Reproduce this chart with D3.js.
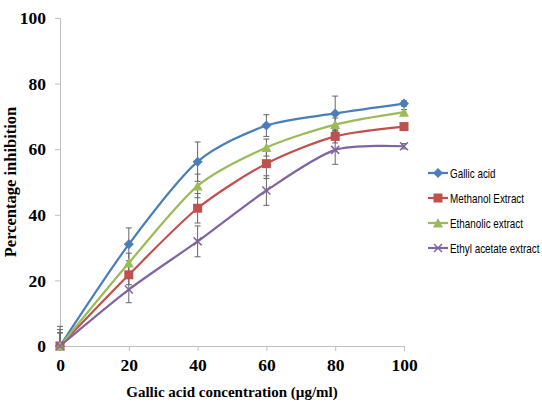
<!DOCTYPE html>
<html>
<head>
<meta charset="utf-8">
<script src="https://cdn.jsdelivr.net/npm/d3@7"></script>
<style>
  body { margin: 0; background: #fff; }
  #my_dataviz { width: 542px; height: 405px; }
</style>
</head>
<body>
<div id="my_dataviz"></div>
<script>
// Data
const concentrations = [0, 20, 40, 60, 80, 100];
const seriesNames = ["Gallic acid", "Methanol Extract", "Ethanolic extract", "Ethyl acetate extract"];
const gallicAcid = [0, 31, 56.2, 67.2, 70.9, 73.9];
const methanolExtract = [0, 21.7, 42, 55.6, 63.9, 66.9];
const ethanolicExtract = [0, 25.3, 48.8, 60.5, 67.5, 71.3];
const ethylAcetateExtract = [0, 17.2, 31.9, 47.4, 59.8, 60.9];
const gallicErr = [6, 5, 6, 3.3, 5.3, 0.8];
const methanolErr = [4, 3, 4.5, 4.5, 2, 0.8];
const ethanolicErr = [5, 3, 3.6, 2.6, 2, 0.8];
const ethylErr = [4, 4, 4.7, 4.5, 4.4, 0.8];
const yTicks = [0, 20, 40, 60, 80, 100];

const margin = { top: 18, right: 138, bottom: 59, left: 60 };
const width = 542 - margin.left - margin.right;
const height = 405 - margin.top - margin.bottom;

const svg = d3.select("#my_dataviz")
  .append("svg")
    .attr("width", 542)
    .attr("height", 405)
  .append("g")
    .attr("transform", `translate(${margin.left},${margin.top})`);

const x = d3.scaleLinear().domain([0, 100]).range([0, width]);
const y = d3.scaleLinear().domain([0, 100]).range([height, 0]);

const colors = ["#4a7ebb", "#c0504d", "#9bbb59", "#8064a2"];
const values = [gallicAcid, methanolExtract, ethanolicExtract, ethylAcetateExtract];
const errors = [gallicErr, methanolErr, ethanolicErr, ethylErr];

const series = seriesNames.map((name, i) => ({
  name: name,
  color: colors[i],
  points: concentrations.map((c, j) => ({ x: c, y: values[i][j], e: errors[i][j] }))
}));

// X axis
const xAxis = svg.append("g")
    .attr("transform", `translate(0,${height})`)
    .call(d3.axisBottom(x).tickValues(concentrations).tickSize(5).tickPadding(8));
// Y axis
const yAxis = svg.append("g")
    .call(d3.axisLeft(y).tickValues(yTicks).tickSize(5).tickPadding(9));

[xAxis, yAxis].forEach(a => {
  a.select(".domain").attr("stroke", "#bfbfbf");
  a.selectAll(".tick line").attr("stroke", "#bfbfbf");
  a.selectAll(".tick text")
    .attr("fill", "#000")
    .style("font-family", "'Liberation Serif', 'Times New Roman', serif")
    .style("font-weight", "bold")
    .style("font-size", "17.5px");
});

// Axis titles
svg.append("text")
    .attr("x", width / 2)
    .attr("y", height + 51)
    .attr("text-anchor", "middle")
    .style("font-family", "'Liberation Serif', 'Times New Roman', serif")
    .style("font-weight", "bold")
    .style("font-size", "15px")
    .text("Gallic acid concentration (µg/ml)");

svg.append("text")
    .attr("transform", `translate(-44,${height / 2}) rotate(-90)`)
    .attr("text-anchor", "middle")
    .style("font-family", "'Liberation Serif', 'Times New Roman', serif")
    .style("font-weight", "bold")
    .style("font-size", "16.5px")
    .text("Percentage inhibition");

// Error bars (clipped at the x axis like the original)
const errG = svg.append("g");
series.forEach(s => {
  s.points.forEach(p => {
    const lo = Math.max(0, p.y - p.e), hi = p.y + p.e;
    const g = errG.append("g").attr("stroke", "#666").attr("stroke-width", 1);
    g.append("line").attr("x1", x(p.x)).attr("x2", x(p.x)).attr("y1", y(lo)).attr("y2", y(hi));
    if (p.y - p.e >= 0) {
      g.append("line").attr("x1", x(p.x) - 3).attr("x2", x(p.x) + 3).attr("y1", y(lo)).attr("y2", y(lo));
    }
    g.append("line").attr("x1", x(p.x) - 3).attr("x2", x(p.x) + 3).attr("y1", y(hi)).attr("y2", y(hi));
  });
});

// Lines
const line = d3.line()
    .x(d => x(d.x))
    .y(d => y(d.y))
    .curve(d3.curveCardinal.tension(0.2));

svg.append("g")
  .selectAll("path")
  .data(series)
  .join("path")
    .attr("d", d => line(d.points))
    .attr("fill", "none")
    .attr("stroke", d => d.color)
    .attr("stroke-width", 2.2);

// Markers
function drawMarker(g, i, color) {
  if (i === 0) {
    g.append("path").attr("d", "M0,-5L5,0L0,5L-5,0Z").attr("fill", color);
  } else if (i === 1) {
    g.append("rect").attr("x", -4.5).attr("y", -4.5).attr("width", 9).attr("height", 9).attr("fill", color);
  } else if (i === 2) {
    g.append("path").attr("d", "M0,-5L5,4.5L-5,4.5Z").attr("fill", color);
  } else {
    g.append("path").attr("d", "M-4,-4L4,4M-4,4L4,-4")
      .attr("stroke", color).attr("stroke-width", 1.5).attr("fill", "none");
  }
}

series.forEach((s, i) => {
  s.points.forEach(p => {
    const g = svg.append("g").attr("transform", `translate(${x(p.x)},${y(p.y)})`);
    drawMarker(g, i, s.color);
  });
});

// Legend
const legend = svg.append("g")
    .attr("transform", `translate(${width + 24},${173 - margin.top})`);
series.forEach((s, i) => {
  const row = legend.append("g").attr("transform", `translate(0,${i * 25})`);
  row.append("line").attr("x1", 0).attr("x2", 20).attr("stroke", s.color).attr("stroke-width", 2.2);
  const m = row.append("g").attr("transform", "translate(10,0)");
  drawMarker(m, i, s.color);
  row.append("text")
    .attr("transform", "translate(22,0) scale(0.76,1)")
    .attr("dy", "0.35em")
    .style("font-family", "'Liberation Sans', Arial, sans-serif")
    .style("font-size", "13px")
    .text(s.name);
});
</script>
</body>
</html>
